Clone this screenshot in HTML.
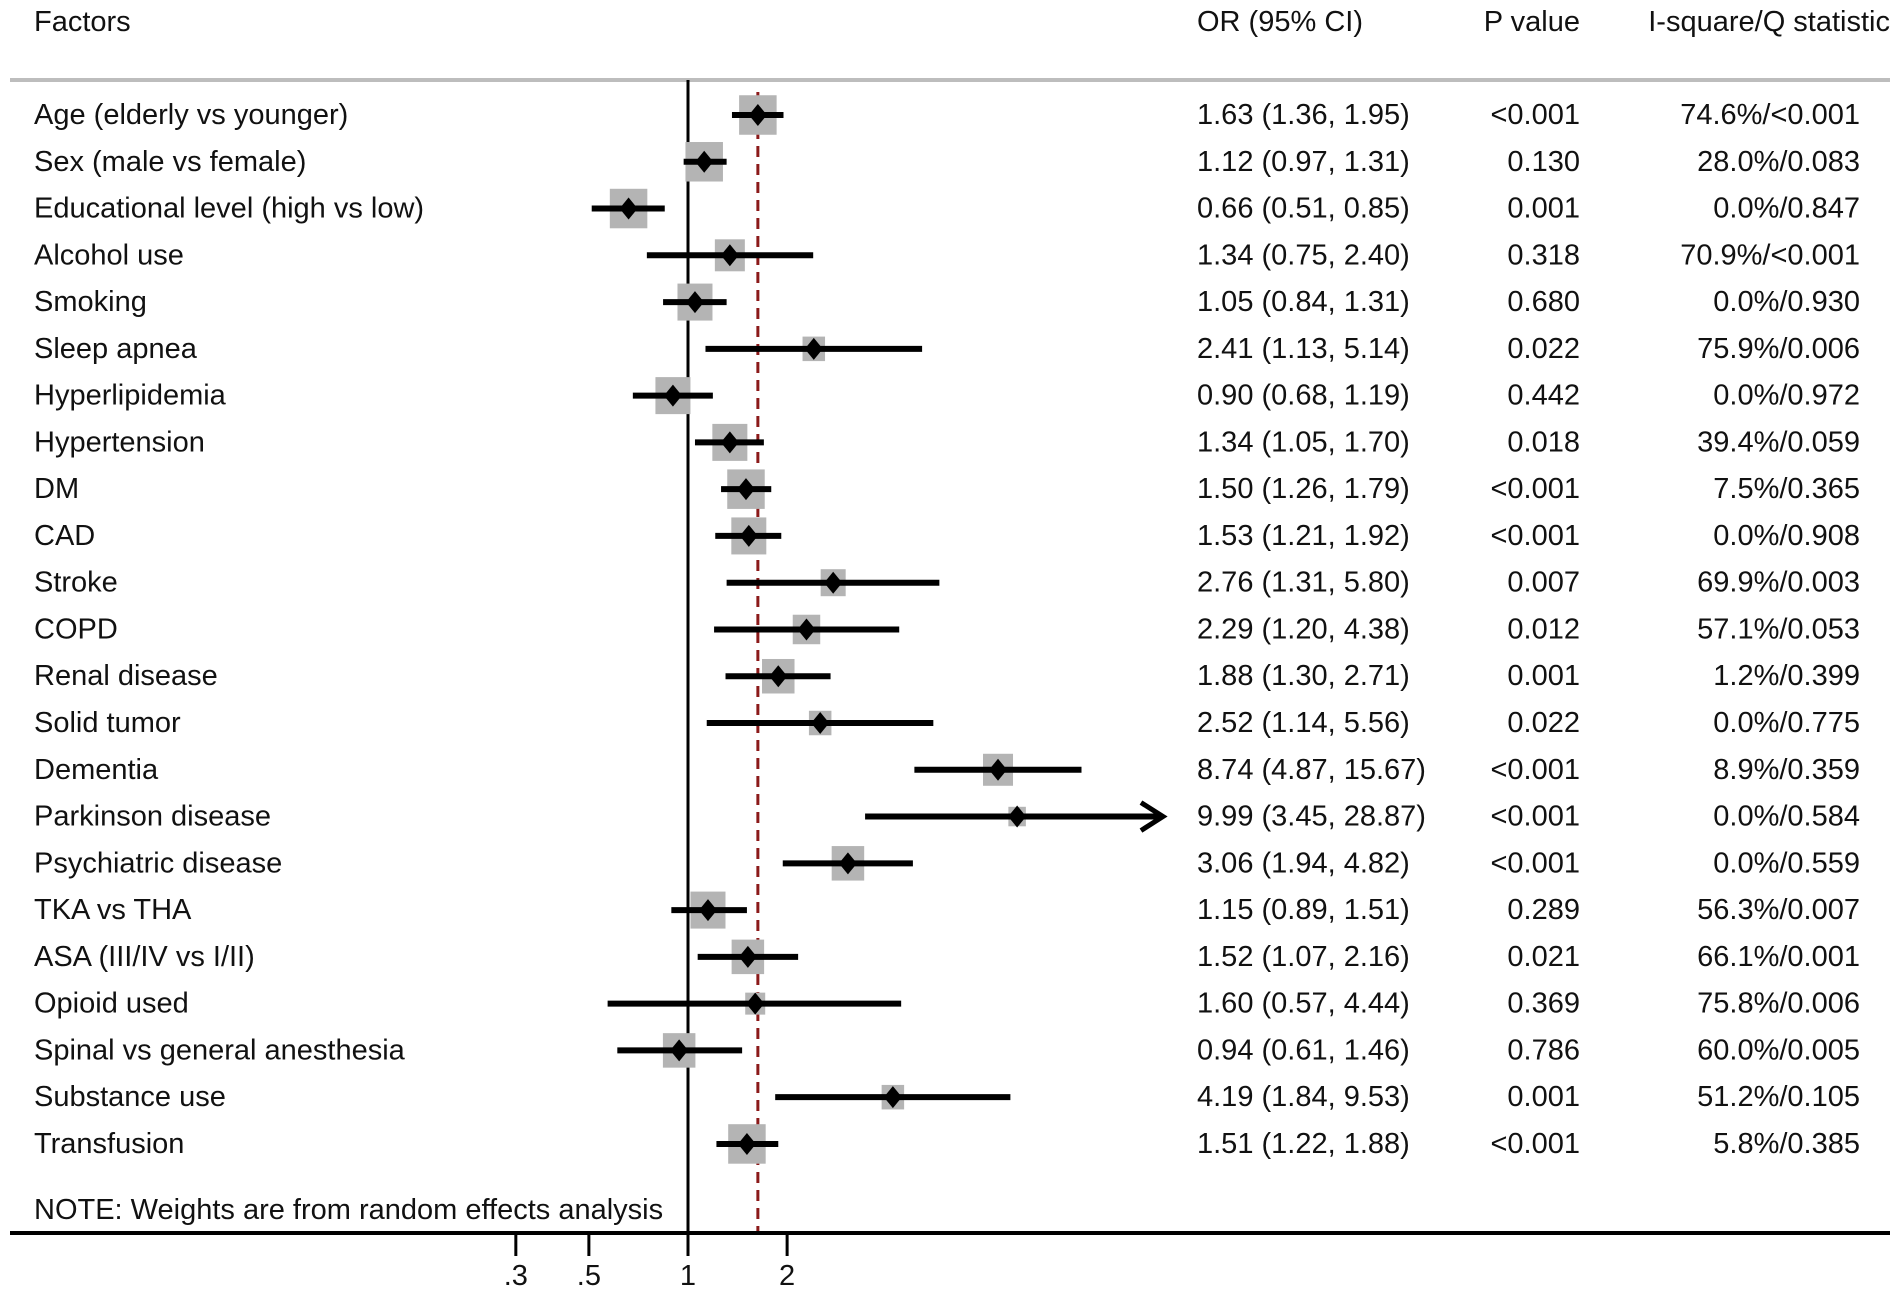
<!DOCTYPE html>
<html><head><meta charset="utf-8"><style>
html,body{margin:0;padding:0;background:#fff;}
svg{display:block;}
text{font-family:"Liberation Sans",sans-serif;font-size:29px;fill:#111;}
</style></head><body>
<svg id="chart" width="1902" height="1294" viewBox="0 0 1902 1294" xmlns="http://www.w3.org/2000/svg">
<g id="g"></g>
</svg>
<script>
const factors=["Age (elderly vs younger)","Sex (male vs female)","Educational level (high vs low)","Alcohol use","Smoking","Sleep apnea","Hyperlipidemia","Hypertension","DM","CAD","Stroke","COPD","Renal disease","Solid tumor","Dementia","Parkinson disease","Psychiatric disease","TKA vs THA","ASA (III/IV vs I/II)","Opioid used","Spinal vs general anesthesia","Substance use","Transfusion"];
const orValues=[1.63,1.12,0.66,1.34,1.05,2.41,0.90,1.34,1.50,1.53,2.76,2.29,1.88,2.52,8.74,9.99,3.06,1.15,1.52,1.60,0.94,4.19,1.51];
const ciLow=[1.36,0.97,0.51,0.75,0.84,1.13,0.68,1.05,1.26,1.21,1.31,1.20,1.30,1.14,4.87,3.45,1.94,0.89,1.07,0.57,0.61,1.84,1.22];
const ciHigh=[1.95,1.31,0.85,2.40,1.31,5.14,1.19,1.70,1.79,1.92,5.80,4.38,2.71,5.56,15.67,28.87,4.82,1.51,2.16,4.44,1.46,9.53,1.88];
const weights=[30,30,30,24,28,18,28,28,30,28,20,22,26,18,24,14,26,28,26,16,26,18,30];
const pValues=["<0.001","0.130","0.001","0.318","0.680","0.022","0.442","0.018","<0.001","<0.001","0.007","0.012","0.001","0.022","<0.001","<0.001","<0.001","0.289","0.021","0.369","0.786","0.001","<0.001"];
const iSquare=["74.6%/<0.001","28.0%/0.083","0.0%/0.847","70.9%/<0.001","0.0%/0.930","75.9%/0.006","0.0%/0.972","39.4%/0.059","7.5%/0.365","0.0%/0.908","69.9%/0.003","57.1%/0.053","1.2%/0.399","0.0%/0.775","8.9%/0.359","0.0%/0.584","0.0%/0.559","56.3%/0.007","66.1%/0.001","75.8%/0.006","60.0%/0.005","51.2%/0.105","5.8%/0.385"];
const tickValues=[0.3,0.5,1,2];
const tickLabels=[".3",".5","1","2"];
const overallOR=1.63;
const axisMax=27.7;

const NS="http://www.w3.org/2000/svg";
const g=document.getElementById('g');
const X0=688,K=143;
function xs(v){return X0+K*Math.log(v);}
const Y0=115,DY=46.77;
function ys(i){return Y0+DY*i;}
function mk(tag,attrs,parent){const e=document.createElementNS(NS,tag);for(const k in attrs)e.setAttribute(k,attrs[k]);(parent||g).appendChild(e);return e;}
function txt(s,x,y,anchor,name){const t=mk('text',{x:x,y:y,'text-anchor':anchor||'start','dominant-baseline':'central'});t.textContent=s;


return t;}

txt("Factors",34,22,'start','header-factors');
txt("OR (95% CI)",1197,22,'start','header-or');
txt("P value",1580,22,'end','header-p-value');
txt("I-square/Q statistic",1890,22,'end','header-i-square');
let hl=mk('rect',{x:10,y:78,width:1880,height:4,fill:'#bdbdbd'});



let nl=mk('line',{x1:xs(1),x2:xs(1),y1:80,y2:1233,stroke:'#000','stroke-width':3});


let ol=mk('line',{x1:xs(overallOR),x2:xs(overallOR),y1:92,y2:1233,stroke:'#8b1a1a','stroke-width':3,'stroke-dasharray':'11,7'});



for(let i=0;i<factors.length;i++){
  const y=ys(i);
  txt(factors[i],34,y,'start','factor-label');
  txt(orValues[i].toFixed(2)+" ("+ciLow[i].toFixed(2)+", "+ciHigh[i].toFixed(2)+")",1197,y,'start','or-ci-value');
  txt(pValues[i],1580,y,'end','p-value');
  txt(iSquare[i],1860,y,'end','i-square-value');
  const s=weights[i]*1.25;
  const b=mk('rect',{x:xs(orValues[i])-s/2,y:y-s/2-1,width:s,height:s+2,fill:'#b4b4b4'});
  
  
  const hi=Math.min(ciHigh[i],axisMax);
  const l=mk('line',{x1:xs(ciLow[i]),x2:xs(hi),y1:y,y2:y,stroke:'#000','stroke-width':6});
  
  
  if(ciHigh[i]>axisMax){
    const a=mk('polyline',{points:(xs(hi)-22)+","+(y-14)+" "+xs(hi)+","+y+" "+(xs(hi)-22)+","+(y+14),fill:'none',stroke:'#000','stroke-width':5});
    
    
  }
  const cx=xs(orValues[i]);
  const d=mk('polygon',{points:(cx-9)+","+y+" "+cx+","+(y-11)+" "+(cx+9)+","+y+" "+cx+","+(y+11),fill:'#000'});
  
  
}
txt("NOTE: Weights are from random effects analysis",34,1210,'start','note');
let ax=mk('rect',{x:10,y:1231,width:1880,height:4,fill:'#000'});


for(let j=0;j<tickValues.length;j++){
  const x=xs(tickValues[j]);
  const t=mk('line',{x1:x,x2:x,y1:1233,y2:1256,stroke:'#000','stroke-width':3});
  
  
  txt(tickLabels[j],x,1276,'middle','x-tick-label');
}
</script>
</body></html>
